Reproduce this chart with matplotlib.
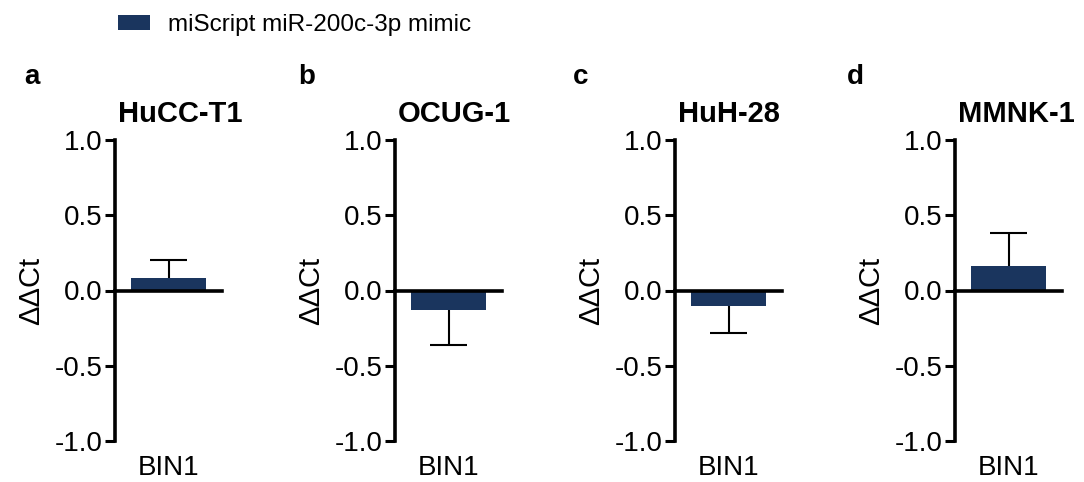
import matplotlib

matplotlib.use("Agg")
import matplotlib.pyplot as plt
from matplotlib.patches import Patch

plt.rcParams["font.family"] = ["Liberation Sans", "DejaVu Sans"]

cell_lines = ["HuCC-T1", "OCUG-1", "HuH-28", "MMNK-1"]
panel_letters = ["a", "b", "c", "d"]
gene = "BIN1"
ddct = [0.08, -0.13, -0.105, 0.16]
ddct_sd = [0.125, 0.235, 0.175, 0.22]
series_name = "miScript miR-200c-3p mimic"
yticks = [-1.0, -0.5, 0.0, 0.5, 1.0]

BAR_COLOR = "#1a355e"
W, H = 1084, 482
DPI = 100

fig = plt.figure(figsize=(W / DPI, H / DPI), dpi=DPI)

spine_x = [115, 395, 675, 955]
letter_x = [24, 298, 573, 847]
ax_w = 107
y_top, y_bot = 140, 441
cap_half = 0.175

for i, name in enumerate(cell_lines):
    left = spine_x[i] / W
    bottom = 1 - y_bot / H
    ax = fig.add_axes((left, bottom, ax_w / W, (y_bot - y_top) / H))
    ax.bar([0.5], [ddct[i]], width=0.71, color=BAR_COLOR, zorder=2)
    sign = 1 if ddct[i] >= 0 else -1
    tip = ddct[i] + sign * ddct_sd[i]
    ax.vlines(0.5, ddct[i], tip, color="black", lw=1.5, zorder=1)
    ax.hlines(tip, 0.5 - cap_half, 0.5 + cap_half, color="black", lw=1.5, zorder=1)
    ax.set_xlim(0, 1)
    ax.set_ylim(-1.0, 1.0)
    ax.set_yticks(yticks)
    ax.set_yticklabels([f"{v:.1f}" for v in yticks])
    ax.spines["top"].set_visible(False)
    ax.spines["right"].set_visible(False)
    ax.spines["bottom"].set_position(("data", 0))
    ax.spines["left"].set_linewidth(2.6)
    ax.spines["bottom"].set_linewidth(2.6)
    ax.spines["bottom"].set_zorder(3)
    ax.set_xticks([])
    ax.tick_params(axis="y", length=7, width=2.2, labelsize=20, pad=2)
    ax.patch.set_visible(False)
    ax.set_ylabel("ΔΔCt", fontsize=21)
    ax.yaxis.set_label_coords(-0.655, 0.5)
    ax.text(0.5, -0.09, gene, transform=ax.transAxes, ha="center", va="center", fontsize=20)
    ax.text(0.03, 1.085, name, transform=ax.transAxes, ha="left", va="center",
            fontsize=21, fontweight="bold")
    fig.text(letter_x[i] / W, 1 - 77 / H, panel_letters[i], ha="left", va="center",
             fontsize=20, fontweight="bold")

handles = [Patch(facecolor=BAR_COLOR, label=series_name)]
fig.legend(handles=handles, loc="center left", bbox_to_anchor=(118 / W, 1 - 25 / H),
           frameon=False, fontsize=17.5, borderpad=0, borderaxespad=0,
           handlelength=1.3, handleheight=0.55, handletextpad=0.75)

fig.savefig("out.png", dpi=DPI)
